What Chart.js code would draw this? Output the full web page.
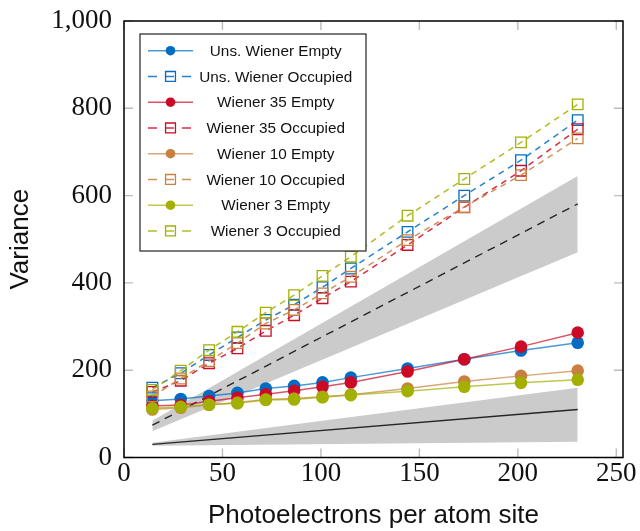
<!DOCTYPE html>
<html>
<head>
<meta charset="utf-8">
<script src="https://cdn.jsdelivr.net/npm/chart.js@4"></script>
<style>
  html, body { margin: 0; padding: 0; background: #fff; }
  #wrap { width: 640px; height: 531px; }
</style>
</head>
<body>
<div id="wrap"><canvas id="chartVariance"></canvas></div>
<script>
/* =============================================
   DATA
   ============================================= */
const photoX = [14.4, 28.8, 43.2, 57.6, 72, 86.4, 100.8, 115.2, 144, 172.8, 201.6, 230.4];

const unsEmpty    = [130, 134, 141, 148, 158, 164, 172, 183, 204, 225, 245, 263];
const unsOccupied = [160, 193, 235, 275, 315, 350, 390, 433, 517, 600, 681, 773];
const w35Empty    = [118, 120, 129, 137, 145, 153, 162, 172, 197, 225, 254, 286];
const w35Occupied = [150, 176, 216, 250, 290, 326, 365, 403, 487, 573, 657, 752];
const w10Empty    = [110, 114, 121, 126, 133, 135, 139, 144, 158, 174, 187, 199];
const w10Occupied = [140, 181, 221, 262, 307, 338, 376, 414, 498, 574, 647, 731];
const w3Empty     = [113, 116, 121, 124, 132, 133, 138, 143, 152, 162, 171, 178];
const w3Occupied  = [155, 199, 246, 288, 332, 372, 416, 460, 554, 638, 722, 809];

// theory lines + shaded bands (end points)
const theoryX     = [14.4, 230.4];
const emptyTheory = [30, 110];
const emptyLow    = [27, 36];
const emptyHigh   = [34, 160];
const occTheory   = [74, 581];
const occLow      = [60, 470];
const occHigh     = [84, 645];

const seriesLabels = [
  'Uns. Wiener Empty', 'Uns. Wiener Occupied',
  'Wiener 35 Empty', 'Wiener 35 Occupied',
  'Wiener 10 Empty', 'Wiener 10 Occupied',
  'Wiener 3 Empty', 'Wiener 3 Occupied'
];
const seriesValues = [unsEmpty, unsOccupied, w35Empty, w35Occupied, w10Empty, w10Occupied, w3Empty, w3Occupied];

const xTicksStep = 50;
const yTicksStep = 200;

/* =============================================
   HELPERS
   ============================================= */
const COLORS = [
  [0, 108, 196],
  [204, 10, 38],
  [200, 128, 64],
  [164, 176, 0]
];
const rgb = (c, a) => `rgba(${c[0]},${c[1]},${c[2]},${a})`;
const toPoints = (xs, ys) => xs.map((x, i) => ({ x, y: ys[i] }));

function seriesDataset(i) {
  const c = COLORS[Math.floor(i / 2)];
  const occupied = i % 2 === 1;
  return {
    label: seriesLabels[i],
    data: toPoints(photoX, seriesValues[i]),
    inLegend: true,
    order: 20 - i,
    borderColor: rgb(c, occupied ? 0.85 : 0.7),
    borderWidth: 1.5,
    borderDash: occupied ? [6, 5] : [],
    tension: 0,
    fill: false,
    pointStyle: occupied ? 'rect' : 'circle',
    pointRadius: occupied ? 7.5 : 6.3,
    pointHoverRadius: occupied ? 7.5 : 6.3,
    pointBorderWidth: occupied ? 1.3 : 0,
    pointBorderColor: rgb(c, 1),
    pointBackgroundColor: occupied ? 'rgba(0,0,0,0)' : rgb(c, 1),
    legendRadius: occupied ? 7 : 4.8
  };
}

function bandDataset(ys, fill) {
  return {
    data: toPoints(theoryX, ys),
    order: 100,
    borderWidth: 0,
    pointRadius: 0,
    tension: 0,
    fill: fill,
    backgroundColor: '#cbcbcb'
  };
}

function theoryDataset(ys, dash) {
  return {
    data: toPoints(theoryX, ys),
    order: 90,
    borderColor: '#262626',
    borderWidth: 1.4,
    borderDash: dash,
    pointRadius: 0,
    tension: 0,
    fill: false
  };
}

/* =============================================
   PLUGINS: frame, inner ticks, boxed legend
   ============================================= */
const frameTicks = {
  id: 'frameTicks',
  beforeDatasetsDraw(chart) {
    const { ctx, chartArea: a, scales } = chart;
    const len = 9;
    ctx.save();
    ctx.strokeStyle = '#bdbdbd';
    ctx.lineWidth = 1.4;
    ctx.beginPath();
    scales.x.ticks.forEach(t => {
      const px = scales.x.getPixelForValue(t.value);
      ctx.moveTo(px, a.bottom); ctx.lineTo(px, a.bottom - len);
      ctx.moveTo(px, a.top); ctx.lineTo(px, a.top + len);
    });
    scales.y.ticks.forEach(t => {
      const py = scales.y.getPixelForValue(t.value);
      ctx.moveTo(a.left, py); ctx.lineTo(a.left + len, py);
      ctx.moveTo(a.right, py); ctx.lineTo(a.right - len, py);
    });
    ctx.stroke();
    ctx.restore();
  },
  afterDatasetsDraw(chart) {
    const { ctx, chartArea: a } = chart;
    ctx.save();
    ctx.strokeStyle = '#000';
    ctx.lineWidth = 1.5;
    ctx.strokeRect(a.left, a.top, a.right - a.left, a.bottom - a.top);
    ctx.restore();
  }
};

const boxLegend = {
  id: 'boxLegend',
  afterDraw(chart) {
    const { ctx, chartArea: a } = chart;
    const left = a.left + 16, top = a.top + 13, w = 226, h = 217;
    const items = chart.data.datasets.filter(d => d.inLegend);
    ctx.save();
    ctx.fillStyle = '#fff';
    ctx.fillRect(left, top, w, h);
    ctx.strokeStyle = '#222';
    ctx.lineWidth = 1.2;
    ctx.strokeRect(left, top, w, h);

    items.forEach((d, i) => {
      const y = top + 16.7 + i * 25.75;
      // line sample
      ctx.strokeStyle = d.borderColor;
      ctx.lineWidth = d.borderWidth;
      ctx.setLineDash(d.borderDash.length ? [9, 8] : []);
      ctx.beginPath();
      ctx.moveTo(left + 8, y);
      ctx.lineTo(left + 53, y);
      ctx.stroke();
      ctx.setLineDash([]);
      // marker
      ctx.fillStyle = d.pointBackgroundColor;
      ctx.strokeStyle = d.pointBorderColor;
      ctx.lineWidth = d.pointBorderWidth;
      Chart.helpers.drawPoint(ctx, {
        pointStyle: d.pointStyle,
        radius: d.legendRadius,
        borderWidth: d.pointBorderWidth,
        rotation: 0
      }, left + 30.5, y);
      // label
      ctx.fillStyle = '#111';
      ctx.font = '15.3px "Liberation Sans", Arial, sans-serif';
      ctx.textAlign = 'center';
      ctx.textBaseline = 'middle';
      ctx.fillText(d.label, left + 135.7, y + 1);
    });
    ctx.restore();
  }
};

/* =============================================
   CHART
   ============================================= */
const datasets = [
  bandDataset(emptyLow, false),
  bandDataset(emptyHigh, '-1'),
  bandDataset(occLow, false),
  bandDataset(occHigh, '-1'),
  theoryDataset(emptyTheory, []),
  theoryDataset(occTheory, [8, 6]),
  ...seriesLabels.map((_, i) => seriesDataset(i))
];

const serif = '"Liberation Serif", "Times New Roman", serif';
const sans = '"Liberation Sans", Arial, sans-serif';

new Chart(document.getElementById('chartVariance').getContext('2d'), {
  type: 'line',
  data: { datasets },
  options: {
    responsive: true,
    maintainAspectRatio: false,
    animation: false,
    layout: { padding: { left: 0, right: 17, top: 21, bottom: 0 } },
    plugins: {
      legend: { display: false },
      tooltip: { enabled: false },
      filler: { propagate: false }
    },
    scales: {
      x: {
        type: 'linear',
        min: 0,
        max: 253.4,
        grid: { display: false, drawTicks: false },
        border: { display: false },
        ticks: {
          stepSize: xTicksStep,
          includeBounds: false,
          padding: 0,
          color: '#111',
          font: { family: serif, size: 27 },
          maxRotation: 0
        },
        title: {
          display: true,
          text: 'Photoelectrons per atom site',
          color: '#111',
          font: { family: sans, size: 26 },
          padding: { top: 0, bottom: 0 }
        },
        afterFit(scale) {
          scale.height = 73.5;
          scale.paddingLeft = 0;
          scale.paddingRight = 0;
        }
      },
      y: {
        min: 0,
        max: 1000,
        grid: { display: false, drawTicks: false },
        border: { display: false },
        ticks: {
          stepSize: yTicksStep,
          padding: 12,
          color: '#111',
          font: { family: serif, size: 27 },
          callback: v => v.toLocaleString('en-US')
        },
        title: {
          display: true,
          text: 'Variance',
          color: '#111',
          font: { family: sans, size: 26 },
          padding: { top: 5, bottom: 0 }
        },
        afterFit(scale) {
          scale.width = 124;
          scale.paddingTop = 0;
          scale.paddingBottom = 0;
        }
      }
    }
  },
  plugins: [frameTicks, boxLegend]
});
</script>
</body>
</html>
